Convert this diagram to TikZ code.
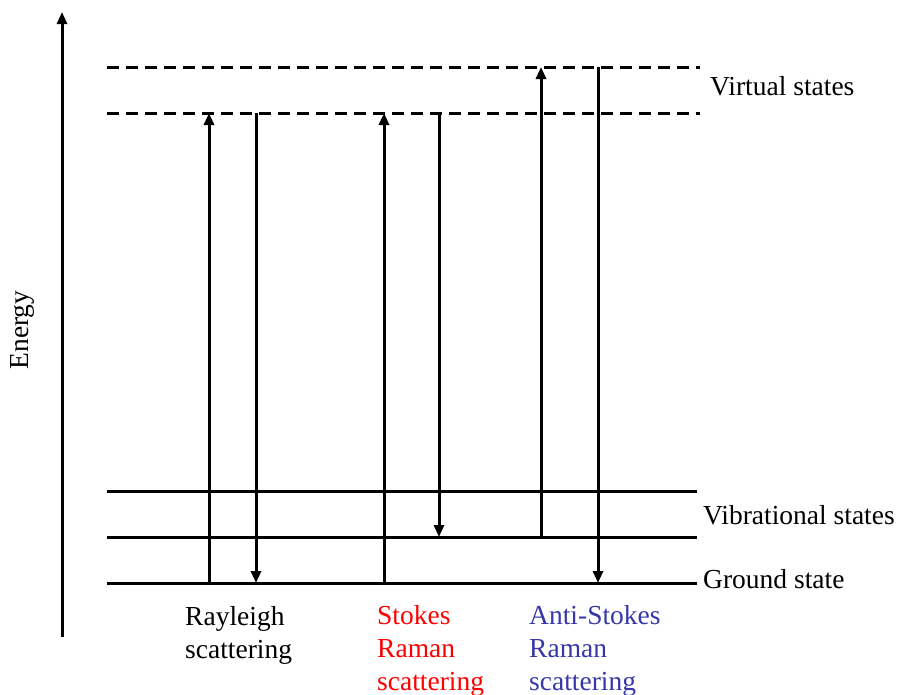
\documentclass[tikz,border=0pt]{standalone}
\usepackage{fontspec}
\setmainfont{Liberation Serif}
\usetikzlibrary{arrows.meta}
\definecolor{stokesred}{RGB}{255,0,0}
\definecolor{antiblue}{RGB}{55,55,170}
\begin{document}
\begin{tikzpicture}[x=1pt,y=-1pt,
  level/.style={line width=3pt},
  virtual/.style={line width=3pt,dash pattern=on 12pt off 7pt},
  trans/.style={line width=3pt,-{Triangle[length=12pt,width=10pt]}},
  lbl/.style={font=\fontsize{27.5}{33}\selectfont,inner sep=0pt,anchor=base west,align=left}]
\useasboundingbox (0,0) rectangle (899,694);

% energy axis
\coordinate (e0) at (62,637);
\coordinate (e1) at (62,12);
\draw[trans] (e0) -- (e1);
\node[lbl,anchor=center,rotate=90] (energy) at (22,330) {Energy};

% virtual levels
\coordinate (v1l) at (107,67);  \coordinate (v1r) at (700,67);
\coordinate (v2l) at (107,113); \coordinate (v2r) at (700,113);
\draw[virtual] (v1l) -- (v1r);
\draw[virtual] (v2l) -- (v2r);

% vibrational and ground levels
\coordinate (b1l) at (107,491); \coordinate (b1r) at (697,491);
\coordinate (b2l) at (107,537); \coordinate (b2r) at (697,537);
\coordinate (gl)  at (107,583); \coordinate (gr)  at (697,583);
\draw[level] (b1l) -- (b1r);
\draw[level] (b2l) -- (b2r);
\draw[level] (gl) -- (gr);

% level labels
\node[lbl] (virt) at (710,95) {Virtual states};
\node[lbl] (vib) at (703,524) {Vibrational states};
\node[lbl] (gnd) at (703,588) {Ground state};

% Rayleigh
\coordinate (r1) at (209,583); \coordinate (r2) at (209,113);
\coordinate (r3) at (256,113); \coordinate (r4) at (256,583);
\draw[trans] (r1) -- (r2);
\draw[trans] (r3) -- (r4);

% Stokes
\coordinate (s1) at (384,583); \coordinate (s2) at (384,113);
\coordinate (s3) at (439,113); \coordinate (s4) at (439,537);
\draw[trans] (s1) -- (s2);
\draw[trans] (s3) -- (s4);

% Anti-Stokes
\coordinate (a1) at (541,537); \coordinate (a2) at (541,67);
\coordinate (a3) at (598,67);  \coordinate (a4) at (598,583);
\draw[trans] (a1) -- (a2);
\draw[trans] (a3) -- (a4);

% process labels (anchored on the baseline of the last line)
\node[lbl] (ray) at (185,658) {Rayleigh\\scattering};
\node[lbl,text=stokesred] (sto) at (377,690) {Stokes\\Raman\\scattering};
\node[lbl,text=antiblue] (ant) at (529,690) {Anti-Stokes\\Raman\\scattering};
\end{tikzpicture}
\end{document}
